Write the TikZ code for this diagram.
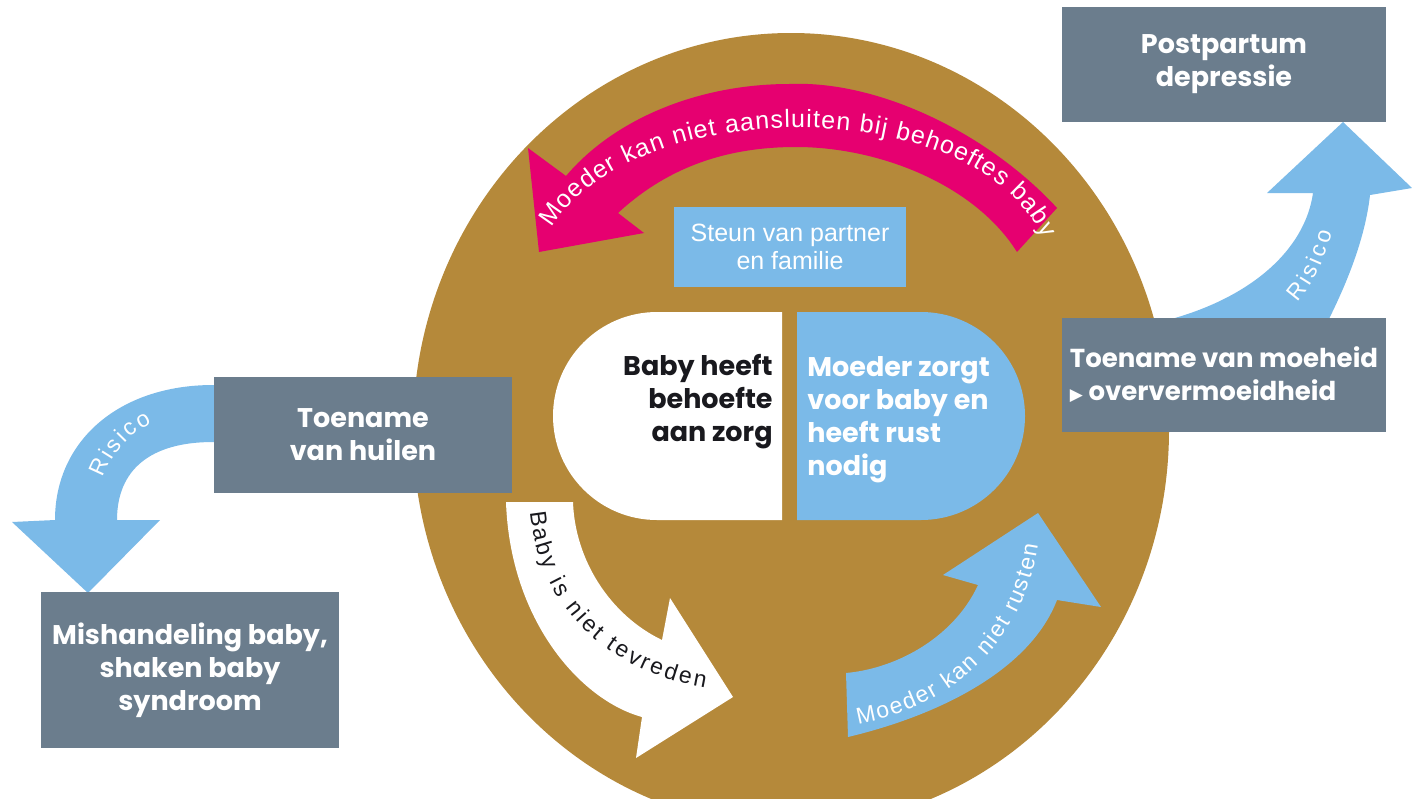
\documentclass[tikz,border=0pt]{standalone}
\usepackage{fontspec}
\setmainfont{Poppins}
\newfontfamily\helv{Liberation Sans}
\newfontfamily\dejavu{DejaVu Sans}
\usetikzlibrary{decorations.text}
\definecolor{cbrown}{RGB}{181,137,58}
\definecolor{cpink}{RGB}{230,0,112}
\definecolor{cblue}{RGB}{123,186,232}
\definecolor{cgray}{RGB}{107,125,141}
\definecolor{cdark}{RGB}{25,25,30}
\begin{document}
\begin{tikzpicture}[x=0.5pt,y=-0.5pt,
  boldfont/.style={font=\bfseries\fontsize{13.5}{16.5}\selectfont},
  graybox/.style={boldfont, fill=cgray, text=white, align=center, inner sep=0pt},
  arctext/.style={decorate, decoration={text along path, text align={fit to path}}}]
\useasboundingbox (0,0) rectangle (1412,798);
\clip (0,0) rectangle (1412,798);
% big brown circle
\fill[cbrown] (791,430) ellipse [x radius=189pt, y radius=198.5pt];
% pink arrow
\fill[cpink] (1057,208) .. controls (990,135) and (880,80) .. (789,84)
  .. controls (700,84) and (615,118) .. (566,176)
  -- (528,148) -- (539,252) -- (644,233) -- (618,213)
  .. controls (670,165) and (730,147) .. (796,147)
  .. controls (880,147) and (975,185) .. (1017,252) -- cycle;
\path[arctext, decoration={text color=white, text={|\helv\fontsize{12.5}{12.5}\selectfont|Moeder kan niet aansluiten bij behoeftes baby}}]
  (552,228) .. controls (630,95) and (975,90) .. (1043,238);
% white arrow
\fill[white] (506,502) -- (573,502) .. controls (575,560) and (610,615) .. (662,640)
  -- (670,598) -- (733,697) -- (636,758) -- (642,717)
  .. controls (580,700) and (510,620) .. (506,502) -- cycle;
\path[arctext, decoration={text color=cdark, text={|\helv\fontsize{11.5}{11.5}\selectfont|Baby is niet tevreden}}]
  (530,512) .. controls (540,610) and (610,672) .. (705,688);
% blue arrow
\fill[cblue] (846,673) -- (848,737) .. controls (940,715) and (1030,670) .. (1057,600)
  -- (1101,607) -- (1038,513) -- (943,575) -- (978,585)
  .. controls (955,635) and (900,668) .. (846,673) -- cycle;
\path[arctext, decoration={text color=white, text={|\helv\fontsize{11.5}{11.5}\selectfont|Moeder kan niet rusten}}]
  (858,724) .. controls (952,707) and (1024,642) .. (1038,545);
% support box
\node[fill=cblue, text=white, font=\helv\fontsize{12.5}{14}\selectfont, align=center,
  minimum width=116pt, minimum height=40pt, inner sep=0pt] (st) at (790,247) {Steun van partner\\en familie};
% capsule
\fill[white] (782,312) -- (657,312) .. controls (599.6,312) and (553,358.6) .. (553,416)
  .. controls (553,473.4) and (599.6,520) .. (657,520) -- (782,520) -- cycle;
\fill[cblue] (797,312) -- (921,312) .. controls (978.4,312) and (1025,358.6) .. (1025,416)
  .. controls (1025,473.4) and (978.4,520) .. (921,520) -- (797,520) -- cycle;
\node[boldfont, anchor=east, align=right, text=cdark, inner sep=0pt] (bh) at (773,402) {Baby heeft\\behoefte\\aan zorg};
\node[boldfont, anchor=west, align=left, text=white, inner sep=0pt] (mz) at (807,420) {Moeder zorgt\\voor baby en\\heeft rust\\nodig};
% left risico arrow
\fill[cblue] (260,385) -- (213,385) .. controls (120,385) and (55,440) .. (55,520)
  -- (12,522) -- (88,593) -- (160,520) -- (117,520)
  .. controls (117,470) and (150,442) .. (213,442) -- (260,442) -- cycle;
\path[arctext, decoration={text color=white, text={|\helv\fontsize{11.5}{11.5}\selectfont|Risico}}]
  (103,478) .. controls (111,456) and (128,434) .. (152,423);
% right risico arrow
\fill[cblue] (1160,322) .. controls (1250,300) and (1305,250) .. (1313,193)
  -- (1267,193) -- (1343,122) -- (1412,188) -- (1370,195)
  .. controls (1365,240) and (1345,290) .. (1318,340) -- (1160,340) -- cycle;
\path[arctext, decoration={text color=white, text={|\helv\fontsize{11.5}{11.5}\selectfont|Risico}}]
  (1297,302) .. controls (1311,287) and (1324,264) .. (1332,232);
% gray boxes
\node[graybox, minimum width=162pt, minimum height=57.5pt] (pp) at (1224,64.5) {Postpartum\\depressie};
\node[graybox, font=\bfseries\fontsize{13}{16.5}\selectfont, minimum width=162pt, minimum height=57pt, align=left] (tm) at (1224,375)
  {Toename van moeheid\\{\dejavu\fontsize{8.5}{8.5}\selectfont ▶} oververmoeidheid};
\node[graybox, minimum width=149pt, minimum height=58pt] (th) at (363,435) {Toename\\van huilen};
\node[graybox, minimum width=149pt, minimum height=78pt] (mb) at (190,670) {Mishandeling baby,\\shaken baby\\syndroom};
\end{tikzpicture}
\end{document}
